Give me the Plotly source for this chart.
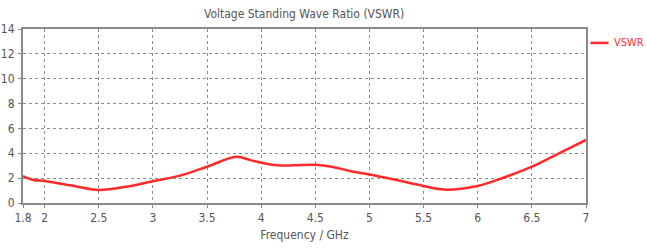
import plotly.graph_objects as go

freq_ghz = [1.8, 1.9, 2.0, 2.25, 2.5, 2.75, 3.0, 3.25, 3.5, 3.77, 3.9, 4.0, 4.15, 4.3, 4.5, 4.65, 4.83, 5.0, 5.25, 5.5, 5.69, 6.0, 6.25, 6.5, 6.75, 7.0]
vswr =     [2.17, 1.85, 1.77, 1.4, 1.05, 1.3, 1.75, 2.2, 2.92, 3.72, 3.45, 3.24, 3.03, 3.03, 3.07, 2.92, 2.55, 2.3, 1.85, 1.37, 1.08, 1.37, 2.07, 2.92, 4.0, 5.07]
x_ticks = [1.8, 2, 2.5, 3, 3.5, 4, 4.5, 5, 5.5, 6, 6.5, 7]
x_tick_labels = ["1.8", "2", "2.5", "3", "3.5", "4", "4.5", "5", "5.5", "6", "6.5", "7"]
y_ticks = [0, 2, 4, 6, 8, 10, 12, 14]
series_name = "VSWR"

FONT = "Liberation Sans Narrow, DejaVu Sans Condensed, Arial Narrow, sans-serif"
RED = "#ff2a2a"

fig = go.Figure()
fig.add_trace(go.Scatter(
    x=freq_ghz, y=vswr, mode="lines", name=series_name, showlegend=False,
    line=dict(color=RED, width=2.5, shape="spline", smoothing=1.0),
))

axis_common = dict(
    showline=True, linecolor="#8a8a8a", linewidth=2, mirror=True,
    showgrid=True, gridcolor="#8c8c8c", griddash="dot", gridwidth=1,
    ticks="outside", ticklen=3, tickcolor="#8a8a8a",
    tickfont=dict(family=FONT, size=12, color="#555555"),
    zeroline=False, automargin=False,
)

fig.update_layout(
    width=647, height=250,
    margin=dict(l=23, r=61, t=29, b=47),
    paper_bgcolor="white", plot_bgcolor="white",
    title=dict(text="Voltage Standing Wave Ratio (VSWR)", x=0.47, xanchor="center",
               y=0.945, yanchor="middle", automargin=False,
               font=dict(family=FONT, size=12, color="#555555")),
    xaxis=dict(range=[1.8, 7], tickvals=x_ticks, ticktext=x_tick_labels,
               title=dict(text="Frequency / GHz", standoff=6,
                          font=dict(family=FONT, size=12, color="#555555")),
               **axis_common),
    yaxis=dict(range=[0, 14], tickvals=y_ticks, ticklabelstandoff=1, **axis_common),
    showlegend=False,
)

# legend key (line + label) to the right of the plot
fig.add_shape(type="line", xref="paper", yref="paper",
              x0=1.008, x1=1.04, y0=0.92, y1=0.92,
              line=dict(color=RED, width=2.5))
fig.add_annotation(text=series_name, xref="paper", yref="paper",
                   x=1.046, y=0.92, xanchor="left", yanchor="middle",
                   showarrow=False,
                   font=dict(family=FONT, size=11, color=RED))

fig.write_html("out.html", config={"displayModeBar": False},
               post_script="document.body.style.margin='0';document.body.style.overflow='hidden';")
